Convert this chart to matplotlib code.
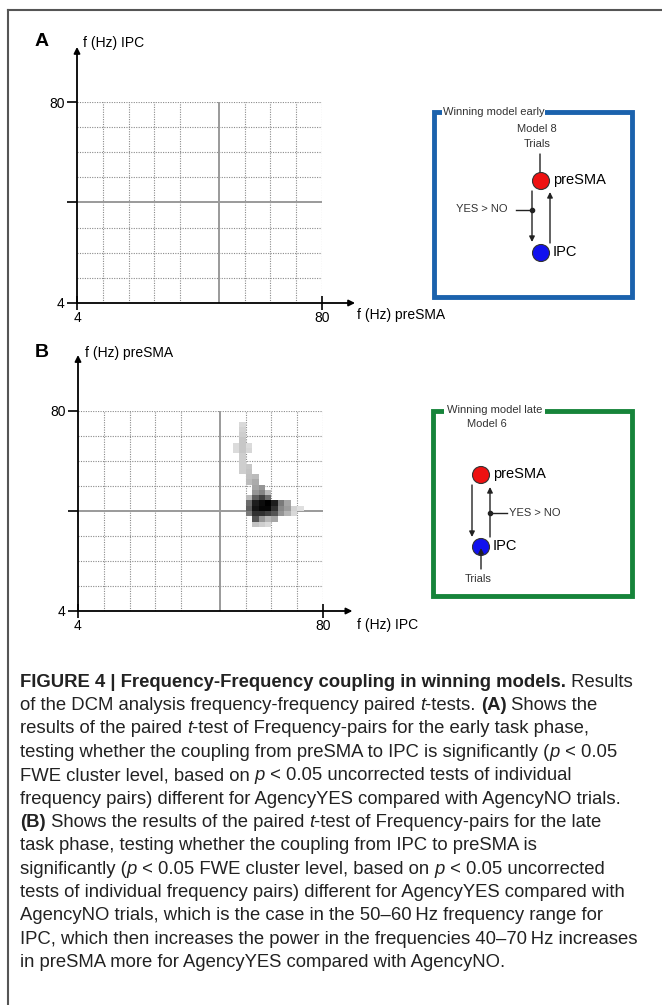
import numpy as np
import matplotlib.pyplot as plt
from matplotlib.patches import Rectangle, Circle

plt.rcParams['font.family'] = ['Liberation Sans', 'DejaVu Sans']

W, H = 662, 1005

# frequency axes (Hz)
f_min, f_max = 4, 80
dotted_x = [12, 20, 28, 36, 56, 64, 72, 80]
solid_x = 48
dotted_y = [13.5, 23, 32.5, 51.5, 61, 70.5, 80]
solid_y = 42

# significant cells of panel B (left edge Hz IPC, bottom edge Hz preSMA, value)
cell_x = [54, 54, 54, 54,
          52, 54, 56, 52, 54, 56,
          54, 54,
          54, 56, 54, 56,
          56, 58, 56, 58,
          58, 60, 58, 60, 62,
          56, 58, 60, 62,
          56, 58, 60, 62, 64, 66, 68,
          56, 58, 60, 62, 64, 66, 68, 70, 72,
          56, 58, 60, 62, 64, 66, 68, 70,
          58, 60, 62, 64,
          58, 60, 62]
cell_y = [74, 72, 70, 68,
          66, 66, 66, 64, 64, 64,
          62, 60,
          58, 58, 56, 56,
          54, 54, 52, 52,
          50, 50, 48, 48, 48,
          46, 46, 46, 46,
          44, 44, 44, 44, 44, 44, 44,
          42, 42, 42, 42, 42, 42, 42, 42, 42,
          40, 40, 40, 40, 40, 40, 40, 40,
          38, 38, 38, 38,
          36, 36, 36]
cell_v = [0.25, 0.28, 0.3, 0.33,
          0.24, 0.33, 0.24, 0.24, 0.33, 0.26,
          0.3, 0.3,
          0.3, 0.33, 0.3, 0.35,
          0.36, 0.38, 0.38, 0.43,
          0.45, 0.5, 0.5, 0.57, 0.38,
          0.38, 0.7, 0.8, 0.65,
          0.65, 0.9, 0.96, 1.0, 0.9, 0.6, 0.45,
          0.7, 0.93, 0.98, 0.98, 0.84, 0.55, 0.48, 0.28, 0.22,
          0.6, 0.84, 0.84, 0.8, 0.74, 0.5, 0.4, 0.25,
          0.74, 0.5, 0.4, 0.45,
          0.35, 0.3, 0.25]

fig = plt.figure(figsize=(W / 100, H / 100), dpi=100)

ov = fig.add_axes([0, 0, 1, 1])
ov.set_xlim(0, W)
ov.set_ylim(H, 0)
ov.axis('off')


def px_axes(x0, y0, x1, y1):
    return fig.add_axes([x0 / W, 1 - y1 / H, (x1 - x0) / W, (y1 - y0) / H])


def freq_panel(ax, top_frac, right_frac):
    ax.set_xlim(f_min, f_max)
    ax.set_ylim(f_min, f_max)
    ax.patch.set_alpha(0)
    for s in ax.spines.values():
        s.set_visible(False)
    ax.vlines(dotted_x, f_min, f_max, colors='#8a8a8a', lw=0.8, linestyles=(0, (1, 1.2)), zorder=1)
    ax.hlines(dotted_y, f_min, f_max, colors='#8a8a8a', lw=0.8, linestyles=(0, (1, 1.2)), zorder=1)
    ax.vlines([solid_x], f_min, f_max, colors='#9a9a9a', lw=1.4, zorder=1)
    ax.hlines([solid_y], f_min, f_max, colors='#9a9a9a', lw=1.4, zorder=1)
    arrow = dict(arrowstyle='-|>', mutation_scale=9, lw=1.3, color='k', shrinkA=0, shrinkB=0)
    ax.annotate('', xy=(0, top_frac), xytext=(0, 0), xycoords='axes fraction',
                arrowprops=arrow, annotation_clip=False)
    ax.annotate('', xy=(right_frac, 0), xytext=(0, 0), xycoords='axes fraction',
                arrowprops=arrow, annotation_clip=False)
    ax.set_yticks([4, 42, 80])
    ax.set_yticklabels(['4', '', '80'], fontsize=10)
    ax.set_xticks([4, 80])
    ax.set_xticklabels(['4', '80'], fontsize=10)
    ax.tick_params(axis='y', direction='out', length=7, width=1.2, pad=2)
    ax.tick_params(axis='x', direction='inout', length=10, width=1.2, pad=1)


axA = px_axes(77, 102, 322, 303)
freq_panel(axA, 1.274, 1.135)

axB = px_axes(78, 411, 323, 611)
freq_panel(axB, 1.28, 1.12)

edges = np.arange(f_min, f_max + 2, 2)
grid = np.zeros((len(edges) - 1, len(edges) - 1))
for cx, cy, cv in zip(cell_x, cell_y, cell_v):
    grid[(cy - f_min) // 2, (cx - f_min) // 2] = cv
grid = np.ma.masked_equal(grid, 0)
axB.pcolormesh(edges, edges, grid, cmap='Greys', vmin=0, vmax=1, zorder=2)

# panel letters and axis titles
ov.text(35, 41, 'A', fontsize=14, fontweight='bold', va='center')
ov.text(35, 352, 'B', fontsize=14, fontweight='bold', va='center')
ov.text(83, 43, 'f (Hz) IPC', fontsize=10, va='center')
ov.text(357, 315, 'f (Hz) preSMA', fontsize=10, va='center')
ov.text(85, 353, 'f (Hz) preSMA', fontsize=10, va='center')
ov.text(357, 625, 'f (Hz) IPC', fontsize=10, va='center')

# outer frame
ov.plot([8, W], [10, 10], color='#555555', lw=1.5)
ov.plot([8, 8], [10, H], color='#555555', lw=1.5)


def arrow(x0, y0, x1, y1):
    ov.annotate('', xy=(x1, y1), xytext=(x0, y0),
                arrowprops=dict(arrowstyle='-|>', mutation_scale=8, lw=1.0, color='#222222',
                                shrinkA=0, shrinkB=0))


def node(x, y, col, name):
    ov.add_patch(Circle((x, y), 8.5, facecolor=col, edgecolor='#333333', lw=0.8, zorder=3))
    ov.text(x + 12, y - 1, name, fontsize=10.5, va='center')


# model early
blue = '#1b62ad'
ov.add_patch(Rectangle((434, 112), 198, 185, fill=False, edgecolor=blue, lw=3.5))
ov.text(443, 112, 'Winning model early', fontsize=8, va='center', color='#333333',
        bbox=dict(facecolor='white', edgecolor='none', pad=0.5))
ov.text(537, 129, 'Model 8', fontsize=8, ha='center', va='center', color='#333333')
ov.text(537, 144, 'Trials', fontsize=8, ha='center', va='center', color='#333333')
arrow(540, 154, 540, 182)
node(541, 181, '#ee1111', 'preSMA')
node(541, 253, '#1111ee', 'IPC')
arrow(532, 191, 532, 242)
arrow(550, 243, 550, 192)
ov.plot([516, 532], [210, 210], color='#222222', lw=1.0)
ov.plot([532], [210], 'o', color='#222222', ms=3)
ov.text(508, 209, 'YES > NO', fontsize=8, ha='right', va='center', color='#333333')

# model late
green = '#16843a'
ov.add_patch(Rectangle((433, 411), 199, 185, fill=False, edgecolor=green, lw=3.5))
ov.text(447, 410, 'Winning model late', fontsize=8, va='center', color='#333333',
        bbox=dict(facecolor='white', edgecolor='none', pad=2))
ov.text(487, 424, 'Model 6', fontsize=8, ha='center', va='center', color='#333333')
node(481, 475, '#ee1111', 'preSMA')
node(481, 547, '#1111ee', 'IPC')
arrow(472, 485, 472, 537)
arrow(490, 537, 490, 487)
ov.plot([490, 507], [513, 513], color='#222222', lw=1.0)
ov.plot([490], [513], 'o', color='#222222', ms=3)
ov.text(509, 513, 'YES > NO', fontsize=8, va='center', color='#333333')
arrow(481, 569, 481, 548)
ov.text(478, 579, 'Trials', fontsize=8, ha='center', va='center', color='#333333')

# caption
caption = [
    [('FIGURE 4 | Frequency-Frequency coupling in winning models.', 'b'), (' Results', 'r')],
    [('of the DCM analysis frequency-frequency paired ', 'r'), ('t', 'i'), ('-tests. ', 'r'),
     ('(A)', 'b'), (' Shows the', 'r')],
    [('results of the paired ', 'r'), ('t', 'i'), ('-test of Frequency-pairs for the early task phase,', 'r')],
    [('testing whether the coupling from preSMA to IPC is significantly (', 'r'), ('p', 'i'), (' < 0.05', 'r')],
    [('FWE cluster level, based on ', 'r'), ('p', 'i'), (' < 0.05 uncorrected tests of individual', 'r')],
    [('frequency pairs) different for AgencyYES compared with AgencyNO trials.', 'r')],
    [('(B)', 'b'), (' Shows the results of the paired ', 'r'), ('t', 'i'),
     ('-test of Frequency-pairs for the late', 'r')],
    [('task phase, testing whether the coupling from IPC to preSMA is', 'r')],
    [('significantly (', 'r'), ('p', 'i'), (' < 0.05 FWE cluster level, based on ', 'r'), ('p', 'i'),
     (' < 0.05 uncorrected', 'r')],
    [('tests of individual frequency pairs) different for AgencyYES compared with', 'r')],
    [('AgencyNO trials, which is the case in the 50\u201360\u2009Hz frequency range for', 'r')],
    [('IPC, which then increases the power in the frequencies 40\u201370\u2009Hz increases', 'r')],
    [('in preSMA more for AgencyYES compared with AgencyNO.', 'r')],
]

styles = {'r': dict(), 'b': dict(fontweight='bold'), 'i': dict(fontstyle='italic')}
renderer = fig.canvas.get_renderer()
cap_y = 682
for line in caption:
    x = 20
    for seg, st in line:
        t = ov.text(x, cap_y, seg, fontsize=13.3, va='center', color='#222222', **styles[st])
        x += t.get_window_extent(renderer).width
    cap_y += 23.4

fig.savefig('out.png', dpi=100)
